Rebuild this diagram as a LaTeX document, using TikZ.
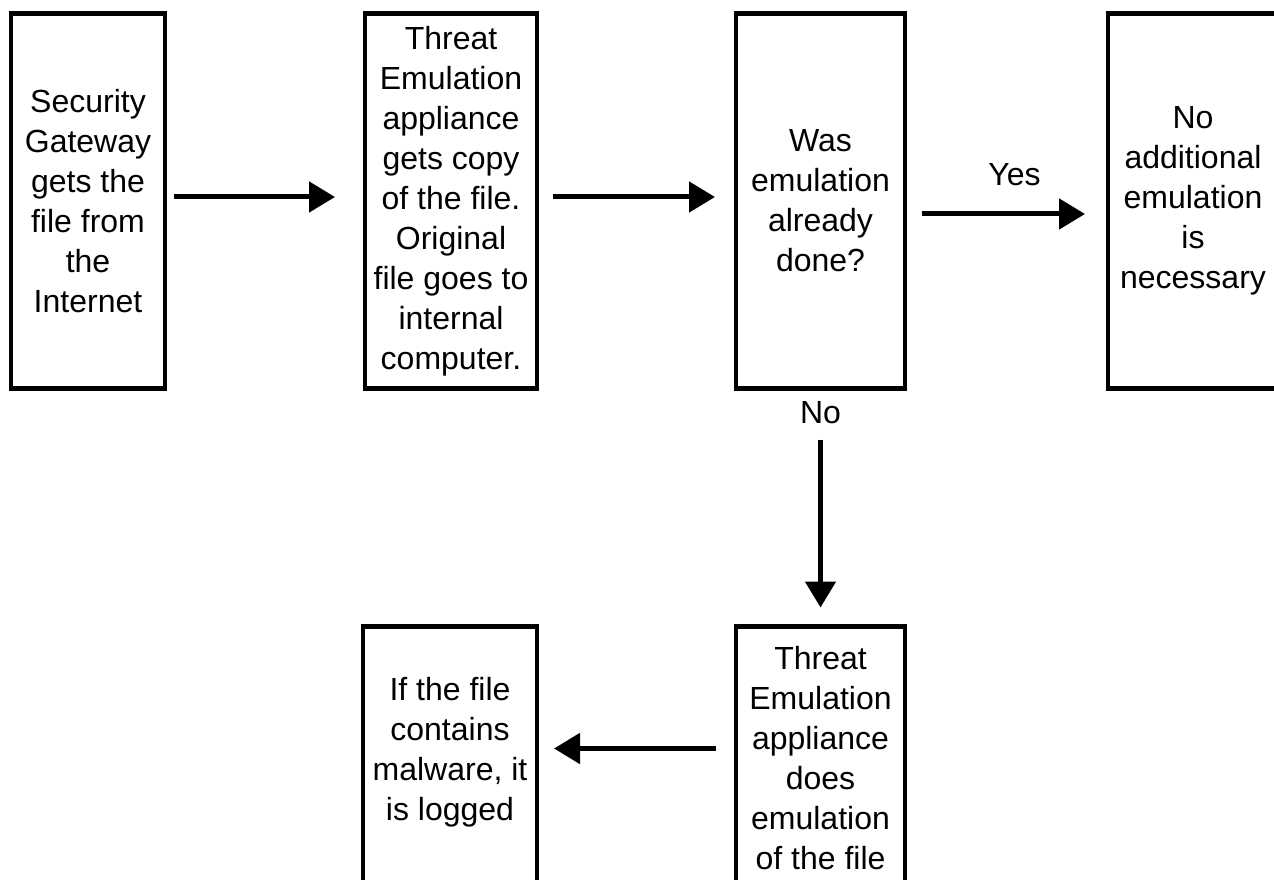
\documentclass[tikz,border=0pt]{standalone}
\usepackage{fontspec}
\setmainfont{Liberation Sans}
\usepackage{tikz}
\usetikzlibrary{arrows.meta, positioning}

\begin{document}
\begin{tikzpicture}[
    every node/.style={font=\fontsize{32pt}{40pt}\selectfont, inner sep=0pt, outer sep=0pt},
    box/.style={rectangle, draw, line width=4.5pt, minimum width=#1, minimum height=375pt, align=center},
    txt/.style={align=center},
    arrow/.style={-{Triangle[length=26pt, width=30pt]}, line width=5pt}
]
\useasboundingbox (0,0) rectangle (1274pt,879pt);
\clip (0,0) rectangle (1274pt,879pt);

% Top row
\node[box=154pt] (gateway) at (88pt,678pt) {Security\\Gateway\\gets the\\file from\\the\\Internet};
\node[box=172pt, right=200pt of gateway] (copy) {Threat\\Emulation\\appliance\\gets copy\\of the file.\\Original\\file goes to\\internal\\computer.};
\node[box=169pt, right=199pt of copy] (check) {Was\\emulation\\already\\done?};
\node[box=170pt, right=203pt of check] (noneed) {No\\additional\\emulation\\is\\necessary};

% Bottom row
\node[txt, below=13pt of check] (no) {No};
\node[box=169pt, below=238pt of check] (emul) {};
\node[txt, below=20pt of emul.north] (emultext) {Threat\\Emulation\\appliance\\does\\emulation\\of the file};
\node[box=174pt, left=199pt of emul] (log) {};
\node[txt, below=51pt of log.north] (logtext) {If the file\\contains\\malware, it\\is logged};

% Arrows
\draw[arrow, shorten <=9pt, shorten >=30pt] ([yshift=4pt]gateway.east) -- ([yshift=4pt]copy.west);
\draw[arrow, shorten <=16pt, shorten >=21pt] ([yshift=4pt]copy.east) -- ([yshift=4pt]check.west);
\draw[arrow, shorten <=17pt, shorten >=23pt] ([yshift=-13pt]check.east) -- node[above=28pt, xshift=8pt] (yes) {Yes} ([yshift=-13pt]noneed.west);
\draw[arrow, shorten <=16pt, shorten >=19pt] (no) -- (emul);
\draw[arrow, shorten <=20pt, shorten >=17pt] ([yshift=-122pt]emul.north west) -- ([yshift=-122pt]log.north east);

\end{tikzpicture}
\end{document}
